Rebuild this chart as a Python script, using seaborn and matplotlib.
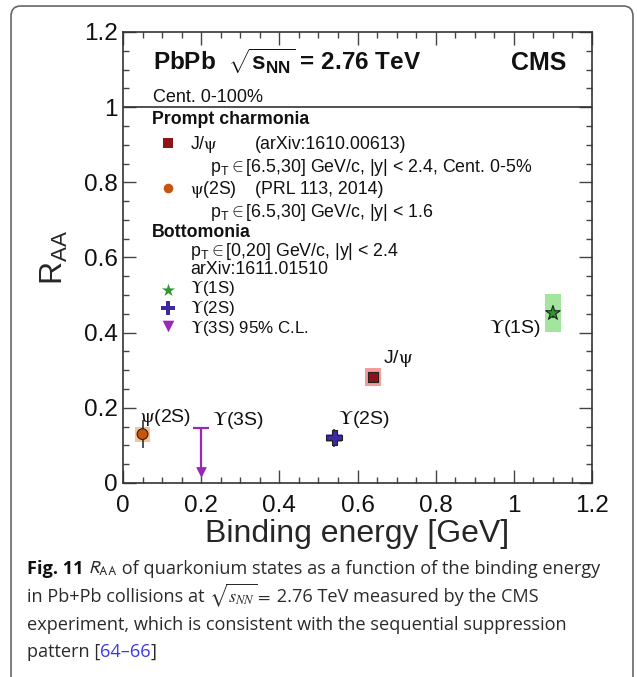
import matplotlib
matplotlib.use("Agg")
import matplotlib.pyplot as plt
from matplotlib.patches import Rectangle, FancyBboxPatch
from matplotlib.ticker import MultipleLocator, FuncFormatter
import pandas as pd
import seaborn as sns

# measured R_AA points (binding energy in GeV)
states = ["J/ψ", "ψ(2S)", "ϒ(1S)", "ϒ(2S)"]
binding_energy = [0.64, 0.05, 1.10, 0.54]
r_aa = [0.282, 0.130, 0.452, 0.120]
stat_err = [0.010, 0.038, 0.012, 0.023]
syst_err = [0.025, 0.020, 0.050, 0.010]

# Upsilon(3S): 95% C.L. upper limit
ul_state = "ϒ(3S)"
ul_binding = 0.20
ul_value = 0.145

marker_colors = ["#8e1418", "#c8550f", "#2e9a2e", "#3b2aa0"]
box_colors = ["#f29c9c", "#f8c493", "#a3e59d", "#a097dd"]
marker_shapes = ["s", "o", "*", "P"]
marker_sizes = [55, 60, 120, 120]
ul_color = "#9b27b8"

sns.set_theme(style="ticks")
plt.rcParams["font.family"] = ["Liberation Sans", "DejaVu Sans"]
plt.rcParams["mathtext.fontset"] = "custom"
plt.rcParams["mathtext.rm"] = "Liberation Sans"
plt.rcParams["mathtext.it"] = "Liberation Sans:italic"
plt.rcParams["mathtext.bf"] = "Liberation Sans:bold"
plt.rcParams["text.color"] = "#111111"

PSI = r"$\mathrm{\psi}$"
UPS = r"$\mathrm{\Upsilon}$"


def greek(label):
    # ROOT-style serif greek inside sans text
    return label.replace("ψ", PSI).replace("ϒ", UPS)


fig = plt.figure(figsize=(6.37, 6.77), dpi=100)
ax = fig.add_axes([0.1931, 0.2866, 0.7363, 0.6662])

df = pd.DataFrame({"state": states, "E": binding_energy, "RAA": r_aa,
                   "stat": stat_err, "syst": syst_err})

# systematic boxes
for _, row in df.iterrows():
    i = states.index(row["state"])
    ax.add_patch(Rectangle((row["E"] - 0.02, row["RAA"] - row["syst"]), 0.04,
                           2 * row["syst"], facecolor=box_colors[i],
                           edgecolor="none", zorder=1))

ax.errorbar(df["E"], df["RAA"], yerr=df["stat"], fmt="none", ecolor="#333333",
            elinewidth=1.2, capsize=0, zorder=2)

sns.scatterplot(data=df, x="E", y="RAA", hue="state", style="state", size="state",
                palette=dict(zip(states, marker_colors)),
                markers=dict(zip(states, marker_shapes)),
                sizes=dict(zip(states, marker_sizes)),
                edgecolor="#222222", linewidth=0.8, legend=False, ax=ax, zorder=3)

# upper limit arrow
arrow_len = 0.115
ax.vlines(ul_binding, ul_value - arrow_len, ul_value, color=ul_color, lw=1.6, zorder=3)
ax.hlines(ul_value, ul_binding - 0.02, ul_binding + 0.02, color=ul_color, lw=1.6, zorder=3)
ax.scatter([ul_binding], [ul_value - arrow_len], marker="v", s=60, color=ul_color,
           zorder=3, linewidths=0)

ax.axhline(1.0, color="#333333", lw=1.2, zorder=1)

ax.set_xlim(0, 1.2)
ax.set_ylim(0, 1.2)
ax.xaxis.set_major_locator(MultipleLocator(0.2))
ax.yaxis.set_major_locator(MultipleLocator(0.2))
ax.xaxis.set_minor_locator(MultipleLocator(0.05))
ax.yaxis.set_minor_locator(MultipleLocator(0.05))
fmt = FuncFormatter(lambda v, p: f"{v:g}")
ax.xaxis.set_major_formatter(fmt)
ax.yaxis.set_major_formatter(fmt)
ax.tick_params(which="both", direction="in", top=True, right=True, color="#444444",
               width=1.0, labelsize=17.5, labelcolor="#111111")
ax.tick_params(which="major", length=9.5)
ax.tick_params(which="minor", length=4.5)
ax.tick_params(axis="y", pad=4)
ax.tick_params(axis="x", pad=8.6)
for s in ax.spines.values():
    s.set_color("#333333")
    s.set_linewidth(1.2)

ax.set_xlabel("Binding energy [GeV]", fontsize=23, va="baseline")
ax.set_ylabel(r"R$_{\rm AA}$", fontsize=23)
ax.xaxis.set_label_coords(0.5, -0.1308)
ax.yaxis.set_label_coords(-0.113, 0.5)

# header
ax.text(0.077, 1.099, r"PbPb  $\sqrt{\mathbf{s}_{\mathbf{NN}}}$ = 2.76 TeV",
        fontsize=17.5, fontweight="bold", va="baseline")
ax.text(1.135, 1.099, "CMS", fontsize=18, fontweight="bold", va="baseline", ha="right")
ax.text(0.077, 1.014, "Cent. 0-100%", fontsize=13, va="baseline")

# legend block
lfs = 12.8
gk = dict(fontsize=lfs, va="baseline", math_fontfamily="stix")
uk = dict(fontsize=12.2, va="baseline", math_fontfamily="stix")
ax.text(0.074, 0.955, "Prompt charmonia", fontsize=lfs, fontweight="bold", va="baseline")
ax.text(0.171, 0.889, greek("J/ψ"), **gk)
ax.text(0.338, 0.889, "(arXiv:1610.00613)", fontsize=lfs, va="baseline")
ax.text(0.222, 0.828, r"p$_{\rm T}\in$[6.5,30] GeV/c, |y| < 2.4, Cent. 0-5%", fontsize=lfs, va="baseline")
ax.text(0.171, 0.769, greek("ψ(2S)"), **gk)
ax.text(0.338, 0.769, "(PRL 113, 2014)", fontsize=lfs, va="baseline")
ax.text(0.222, 0.708, r"p$_{\rm T}\in$[6.5,30] GeV/c, |y| < 1.6", fontsize=lfs, va="baseline")
ax.text(0.074, 0.655, "Bottomonia", fontsize=lfs, fontweight="bold", va="baseline")
ax.text(0.171, 0.604, r"p$_{\rm T}\in$[0,20] GeV/c, |y| < 2.4", fontsize=lfs, va="baseline")
ax.text(0.171, 0.556, "arXiv:1611.01510", fontsize=lfs, va="baseline")
ax.text(0.171, 0.506, greek("ϒ(1S)"), **uk)
ax.text(0.171, 0.453, greek("ϒ(2S)"), **uk)
ax.text(0.171, 0.399, greek("ϒ(3S) 95% C.L."), **uk)

key_y = [0.905, 0.784, 0.514, 0.466]
for i in range(4):
    ax.scatter([0.115], [key_y[i]], marker=marker_shapes[i], s=marker_sizes[i] * 0.8,
               color=marker_colors[i], linewidths=0, zorder=3)
ax.scatter([0.115], [0.418], marker="v", s=70, color=ul_color, linewidths=0, zorder=3)

# point labels
pk = dict(fontsize=14, va="baseline", math_fontfamily="stix")
ax.text(0.044, 0.162, greek("ψ(2S)"), **pk)
ax.text(0.228, 0.154, greek(ul_state), **pk)
ax.text(0.55, 0.157, greek("ϒ(2S)"), **pk)
ax.text(0.665, 0.319, greek("J/ψ"), **pk)
ax.text(1.069, 0.399, greek("ϒ(1S)"), ha="right", **pk)

# outer rounded frame
frame = FancyBboxPatch((0.0173, -0.05), 0.9764, 1.0411,
                       boxstyle="round,pad=0,rounding_size=0.015",
                       transform=fig.transFigure, fill=False, edgecolor="#666666",
                       linewidth=1.2, clip_on=False)
fig.add_artist(frame)

# caption
cap_fs = 13.1
cap_col = "#2a2a2a"
cap_font = ["Open Sans", "DejaVu Sans"]


def caption_line(pieces, y):
    prev = None
    for txt, kw in pieces:
        opts = dict(fontsize=cap_fs, color=cap_col, family=cap_font, va="baseline", ha="left")
        opts.update(kw)
        if prev is None:
            prev = fig.text(27 / 637, y, txt, **opts)
        else:
            prev = ax.annotate(txt, xy=(1, y), xycoords=(prev, "figure fraction"),
                               annotation_clip=False, **opts)


caption_line([("Fig. 11", dict(fontweight="bold", color="#111111")),
              (" ", {}),
              (r"$R_{\mathrm{AA}}$", dict(math_fontfamily="stixsans")),
              (" of quarkonium states as a function of the binding energy", {})],
             1 - 574 / 677)
caption_line([("in Pb+Pb collisions at ", {}),
              (r"$\sqrt{s_{NN}}=$", dict(math_fontfamily="stix")),
              (" 2.76 TeV measured by the CMS", {})],
             1 - 602 / 677)
caption_line([("experiment, which is consistent with the sequential suppression", {})],
             1 - 630 / 677)
caption_line([("pattern [", {}), ("64–66", dict(color="#3a3ae8")), ("]", {})],
             1 - 657 / 677)

fig.savefig("out.png", dpi=100)
